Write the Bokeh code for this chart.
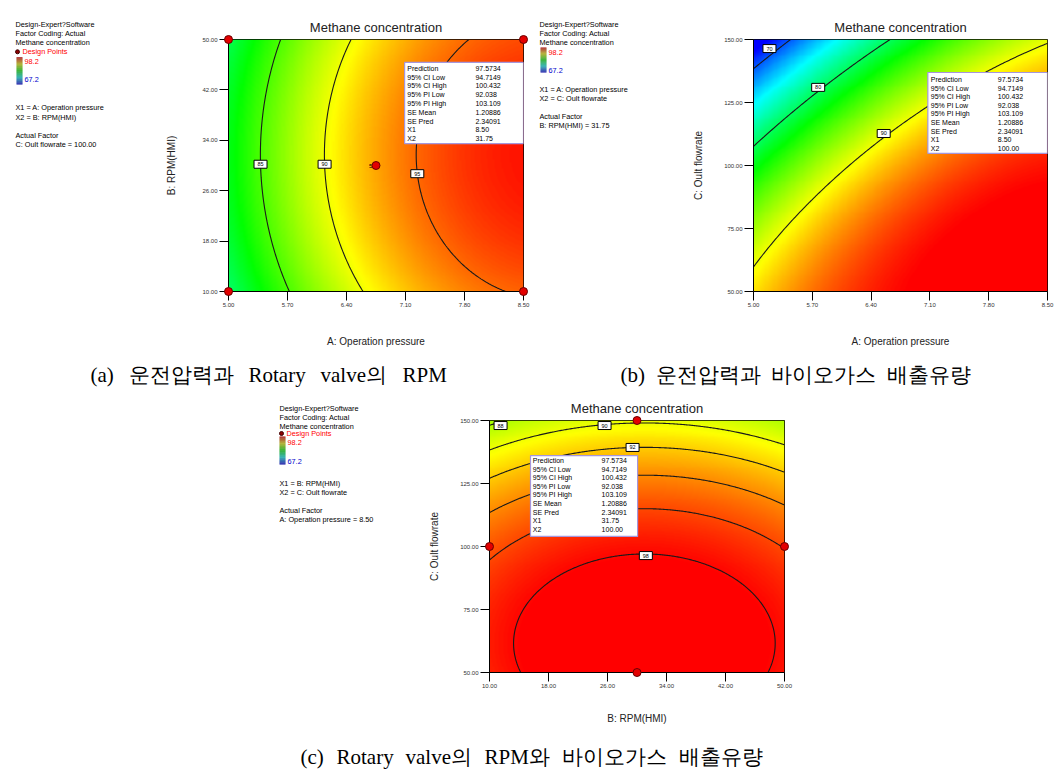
import numpy as np
from bokeh.plotting import figure
from bokeh.layouts import column, row
from bokeh.models import Range1d, LinearColorMapper, FixedTicker, PrintfTickFormatter, Spacer
from bokeh.core.properties import value
from bokeh.embed import file_html
from bokeh.resources import INLINE

# ------------------------------------------------------------------ data
TITLE = "Methane concentration"
COLOR_LOW, COLOR_HIGH = 67.2, 98.2
pred_labels = ["Prediction", "95% CI Low", "95% CI High", "95% PI Low", "95% PI High",
               "SE Mean", "SE Pred", "X1", "X2"]
pred_common = ["97.5734", "94.7149", "100.432", "92.038", "103.109", "1.20886", "2.34091"]

# (a) A: Operation pressure vs B: RPM(HMI), C = 100
a_x_name, a_y_name = "A: Operation pressure", "B: RPM(HMI)"
a_x_range, a_y_range = [5.0, 8.5], [10.0, 50.0]
a_x_ticks = [5.0, 5.7, 6.4, 7.1, 7.8, 8.5]
a_y_ticks = [10.0, 18.0, 26.0, 34.0, 42.0, 50.0]
a_coef = [93.11, 7.78, 0.35, 0.0, -3.30, -2.05]      # coded: 1, x, y, xy, x^2, y^2
a_levels = [85, 90, 95]
a_lab_text = ["85", "90", "95"]
a_lab_x = [5.38, 6.14, 7.24]
a_lab_y = [30.2, 30.2, 28.7]
a_pt_x = [5.0, 8.5, 5.0, 8.5, 6.75]
a_pt_y = [50.0, 50.0, 10.0, 10.0, 30.0]
a_pt_note = ["5"]
a_pred_x = ["8.50", "31.75"]
a_legend = ["X1 = A: Operation pressure", "X2 = B: RPM(HMI)", "Actual Factor", "C: Oult flowrate = 100.00"]

# (b) A: Operation pressure vs C: Oult flowrate, B = 31.75
b_x_name, b_y_name = "A: Operation pressure", "C: Oult flowrate"
b_x_range, b_y_range = [5.0, 8.5], [50.0, 150.0]
b_x_ticks = [5.0, 5.7, 6.4, 7.1, 7.8, 8.5]
b_y_ticks = [50.0, 75.0, 100.0, 125.0, 150.0]
b_coef = [93.12, 7.78, -8.56, 4.29, -3.30, -3.68]
b_levels = [70, 80, 90]
b_lab_text = ["70", "80", "90"]
b_lab_x = [5.19, 5.77, 6.55]
b_lab_y = [146.4, 131.0, 112.7]
b_pred_x = ["8.50", "100.00"]
b_legend = ["X1 = A: Operation pressure", "X2 = C: Oult flowrate", "Actual Factor", "B: RPM(HMI) = 31.75"]

# (c) B: RPM(HMI) vs C: Oult flowrate, A = 8.50
c_x_name, c_y_name = "B: RPM(HMI)", "C: Oult flowrate"
c_x_range, c_y_range = [10.0, 50.0], [50.0, 150.0]
c_x_ticks = [10.0, 18.0, 26.0, 34.0, 42.0, 50.0]
c_y_ticks = [50.0, 75.0, 100.0, 125.0, 150.0]
c_coef = [97.72, 0.2, -4.81, 0.0, -2.0, -3.13]
c_levels = [88, 90, 92, 94, 96, 98]
c_lab_text = ["88", "90", "92", "98"]
c_lab_x = [11.5, 25.6, 29.4, 31.2]
c_lab_y = [148.0, 148.0, 139.3, 96.4]
c_pt_x = [30.0, 10.0, 50.0, 30.0]
c_pt_y = [150.0, 100.0, 100.0, 50.0]
c_pred_x = ["31.75", "100.00"]
c_legend = ["X1 = B: RPM(HMI)", "X2 = C: Oult flowrate", "Actual Factor", "A: Operation pressure = 8.50"]

cap_a = ["(a)", "운전압력과", "Rotary", "valve의", "RPM"]
cap_b = ["(b)", "운전압력과", "바이오가스", "배출유량"]
cap_c = ["(c)", "Rotary", "valve의", "RPM와", "바이오가스", "배출유량"]

# ------------------------------------------------------------------ style
FONT_NAME = "Liberation Sans"
FONT = value(FONT_NAME)
SERIF = value("Liberation Serif")
stops = [(0, 0, 255), (0, 255, 255), (0, 255, 0), (255, 255, 0), (255, 0, 0)]


def ramp(stop_list, n=256, dark=1.0):
    out = []
    for i in range(n):
        t = i / (n - 1) * (len(stop_list) - 1)
        k = min(int(t), len(stop_list) - 2)
        f = t - k
        c = [int(round((stop_list[k][j] + (stop_list[k + 1][j] - stop_list[k][j]) * f) * dark))
             for j in range(3)]
        out.append("#%02x%02x%02x" % tuple(c))
    return out


pal = ramp(stops)
pal_legend = ramp(stops, 40, 0.62)
mapper = LinearColorMapper(palette=pal, low=COLOR_LOW, high=COLOR_HIGH,
                           low_color=pal[0], high_color=pal[-1])


def surface(coef, xr, yr, n=260):
    xs = np.linspace(xr[0], xr[1], n)
    ys = np.linspace(yr[0], yr[1], n)
    X, Y = np.meshgrid(xs, ys)
    u = (X - (xr[0] + xr[1]) / 2) / ((xr[1] - xr[0]) / 2)
    v = (Y - (yr[0] + yr[1]) / 2) / ((yr[1] - yr[0]) / 2)
    Z = coef[0] + coef[1] * u + coef[2] * v + coef[3] * u * v + coef[4] * u * u + coef[5] * v * v
    return xs, ys, Z


def make_plot(w, h, borders, xr, yr, xt, yt, xname, yname, coef, levels,
              lab_t, lab_x, lab_y, pts, note, box, pred_x, xstand, ystand):
    bl, br, bt, bb = borders
    p = figure(width=w, height=h, x_range=Range1d(*xr), y_range=Range1d(*yr),
               min_border_left=bl, min_border_right=br, min_border_top=bt, min_border_bottom=bb,
               toolbar_location=None, output_backend="svg", title=TITLE)
    p.title.align = "center"
    p.title.text_font = FONT_NAME
    p.title.text_font_style = "normal"
    p.title.text_font_size = "13px"
    p.title.text_color = "#222222"
    p.grid.visible = False
    p.outline_line_color = "black"
    p.outline_line_width = 1
    p.xaxis.ticker = FixedTicker(ticks=xt)
    p.yaxis.ticker = FixedTicker(ticks=yt)
    p.xaxis.formatter = PrintfTickFormatter(format="%.2f")
    p.yaxis.formatter = PrintfTickFormatter(format="%.2f")
    p.axis.major_tick_in = 0
    p.axis.major_tick_out = 9
    p.axis.minor_tick_line_color = None
    p.axis.axis_line_color = "black"
    p.axis.major_tick_line_color = "black"
    p.axis.major_label_text_font_size = "6px"
    p.axis.major_label_text_font = FONT_NAME
    p.axis.major_label_text_color = "#333333"
    p.axis.major_label_standoff = 2
    p.axis.axis_label_text_font = FONT_NAME
    p.axis.axis_label_text_font_style = "normal"
    p.axis.axis_label_text_font_size = "10px"
    p.axis.axis_label_text_color = "#222222"
    p.xaxis.axis_label = xname
    p.yaxis.axis_label = yname
    p.xaxis.axis_label_standoff = xstand
    p.yaxis.axis_label_standoff = ystand

    xs, ys, Z = surface(coef, xr, yr)
    p.image(image=[Z], x=xr[0], y=yr[0], dw=xr[1] - xr[0], dh=yr[1] - yr[0], color_mapper=mapper)
    p.contour(x=xs, y=ys, z=Z, levels=levels, line_color="#1a1a1a", line_width=1.1, fill_color=None)

    def dx(f):
        return xr[0] + f * (xr[1] - xr[0])

    def dy(f):
        return yr[1] - f * (yr[1] - yr[0])

    # prediction box
    l, r, t, b, fy0, step, lx, vx = box
    p.quad(left=[dx(l)], right=[dx(r)], top=[dy(t)], bottom=[dy(b)],
           fill_color="white", line_color="#a596dc", line_width=1.2)
    vals = pred_common + pred_x
    yy = [dy(fy0 + i * step) for i in range(len(pred_labels))]
    p.text(x=[dx(lx)] * len(pred_labels), y=yy, text=pred_labels, text_font=FONT,
           text_font_size="7px", text_baseline="middle", text_color="black")
    p.text(x=[dx(vx)] * len(vals), y=yy, text=vals, text_font=FONT,
           text_font_size="7px", text_baseline="middle", text_color="black")

    # contour labels
    p.rect(x=lab_x, y=lab_y, width=13, height=8, width_units="screen", height_units="screen",
           fill_color="white", line_color="black", line_width=1)
    p.text(x=lab_x, y=lab_y, text=lab_t, text_font=FONT, text_font_size="5.5px",
           text_align="center", text_baseline="middle", text_color="black")

    if pts is not None:
        p.scatter(x=pts[0], y=pts[1], size=8, fill_color="#e30000", line_color="#6a0000",
                  line_width=1, level="overlay")
    if note is not None:
        p.text(x=[note[1] - (xr[1] - xr[0]) * 0.012], y=[note[2]], text=note[0], text_font=FONT,
               text_font_size="6px", text_align="right", text_baseline="middle")
    return p


def make_legend(w, h, ox, frame_y, borders, x0, y_head, y_pts, cb, y_lines, lines):
    # the row aligns this figure's frame with its neighbour plot: frame spans frame_y (page px)
    bt, bb = borders
    p = figure(width=w, height=h, x_range=Range1d(ox, ox + w), y_range=Range1d(frame_y[1], frame_y[0]),
               min_border_left=0, min_border_right=0, min_border_top=bt, min_border_bottom=bb,
               toolbar_location=None, output_backend="svg")
    p.axis.visible = False
    p.grid.visible = False
    p.outline_line_color = None
    fs = "7.3px"
    head = ["Design-Expert?Software", "Factor Coding: Actual", "Methane concentration"]
    p.text(x=[x0] * 3, y=[y_head + i * 9.2 for i in range(3)], text=head, text_font=FONT,
           text_font_size=fs, text_baseline="middle", text_color="black", level="overlay")
    if y_pts is not None:
        p.scatter(x=[x0 + 2], y=[y_pts], size=4, fill_color="#8b0000", line_color="#400000",
                  level="overlay")
        p.text(x=[x0 + 7], y=[y_pts], text=["Design Points"], text_font=FONT,
               text_font_size=fs, text_baseline="middle", text_color="#ff0000", level="overlay")
    cbx, cbt, cbb, yhi, ylo = cb
    n = len(pal_legend)
    ys = np.linspace(cbt, cbb, n + 1)
    cols = pal_legend[::-1]
    p.quad(left=[cbx] * n, right=[cbx + 6] * n, top=list(ys[:-1]), bottom=list(ys[1:]),
           fill_color=cols, line_color=None, level="overlay")
    p.text(x=[cbx + 8], y=[yhi], text=["%.1f" % COLOR_HIGH], text_font=FONT,
           text_font_size=fs, text_baseline="middle", text_color="#ff0000", level="overlay")
    p.text(x=[cbx + 8], y=[ylo], text=["%.1f" % COLOR_LOW], text_font=FONT,
           text_font_size=fs, text_baseline="middle", text_color="#0000cc", level="overlay")
    p.text(x=[x0] * 4, y=y_lines, text=lines, text_font=FONT, text_font_size=fs,
           text_baseline="middle", text_color="black", level="overlay")
    return p


def make_caption(w, h, words, xs):
    p = figure(width=w, height=h, x_range=Range1d(0, w), y_range=Range1d(h, 0),
               min_border=0, toolbar_location=None, output_backend="svg")
    p.axis.visible = False
    p.grid.visible = False
    p.outline_line_color = None
    p.text(x=xs, y=[h / 2 + 2] * len(xs), text=words, text_font=SERIF, text_font_size="21px",
           text_baseline="middle", text_color="black")
    return p


# ------------------------------------------------------------------ layout
pa = make_plot(380, 355, (78, 7, 39, 64), a_x_range, a_y_range, a_x_ticks, a_y_ticks,
               a_x_name, a_y_name, a_coef, a_levels, a_lab_text, a_lab_x, a_lab_y,
               (a_pt_x, a_pt_y), (a_pt_note, a_pt_x[4], a_pt_y[4]),
               (0.597, 1.0, 0.091, 0.413, 0.114, 0.035, 0.606, 0.837), a_pred_x, 26, 22)
pb = make_plot(374, 355, (62, 17, 39, 64), b_x_range, b_y_range, b_x_ticks, b_y_ticks,
               b_x_name, b_y_name, b_coef, b_levels, b_lab_text, b_lab_x, b_lab_y,
               None, None,
               (0.593, 1.0, 0.131, 0.452, 0.159, 0.0341, 0.603, 0.831), b_pred_x, 26, 17)
pc = make_plot(380, 345, (69, 16, 30, 63), c_x_range, c_y_range, c_x_ticks, c_y_ticks,
               c_x_name, c_y_name, c_coef, c_levels, c_lab_text, c_lab_x, c_lab_y,
               (c_pt_x, c_pt_y), None,
               (0.139, 0.502, 0.139, 0.46, 0.159, 0.0341, 0.147, 0.38), c_pred_x, 22, 17)

la = make_legend(150, 355, 0, (39, 291), (39, 64), 15, 24, 51.3, (16, 56.7, 84, 60.7, 79.3),
                 [107.3, 116.6, 135, 144.3], a_legend)
lb = make_legend(160, 355, 530, (39, 291), (39, 64), 539, 24, None, (540, 47, 72, 52, 70),
                 [89, 98.3, 116, 125.3], b_legend)
lc = make_legend(150, 345, 270, (420, 672), (30, 63), 279, 408, 433, (279, 436, 464, 441.5, 461),
                 [483, 492.3, 510, 519.3], c_legend)

capab = make_caption(1064, 35, cap_a + cap_b,
                     [90, 128, 248, 320, 402, 620, 655, 770, 886])
capc = make_caption(1064, 39, cap_c, [300, 336, 405, 484, 561, 678])

layout = column(
    row(la, pa, lb, pb),
    capab,
    row(Spacer(width=270, height=345), lc, pc),
    capc,
)

open("out.html", "w").write(file_html(layout, INLINE))
